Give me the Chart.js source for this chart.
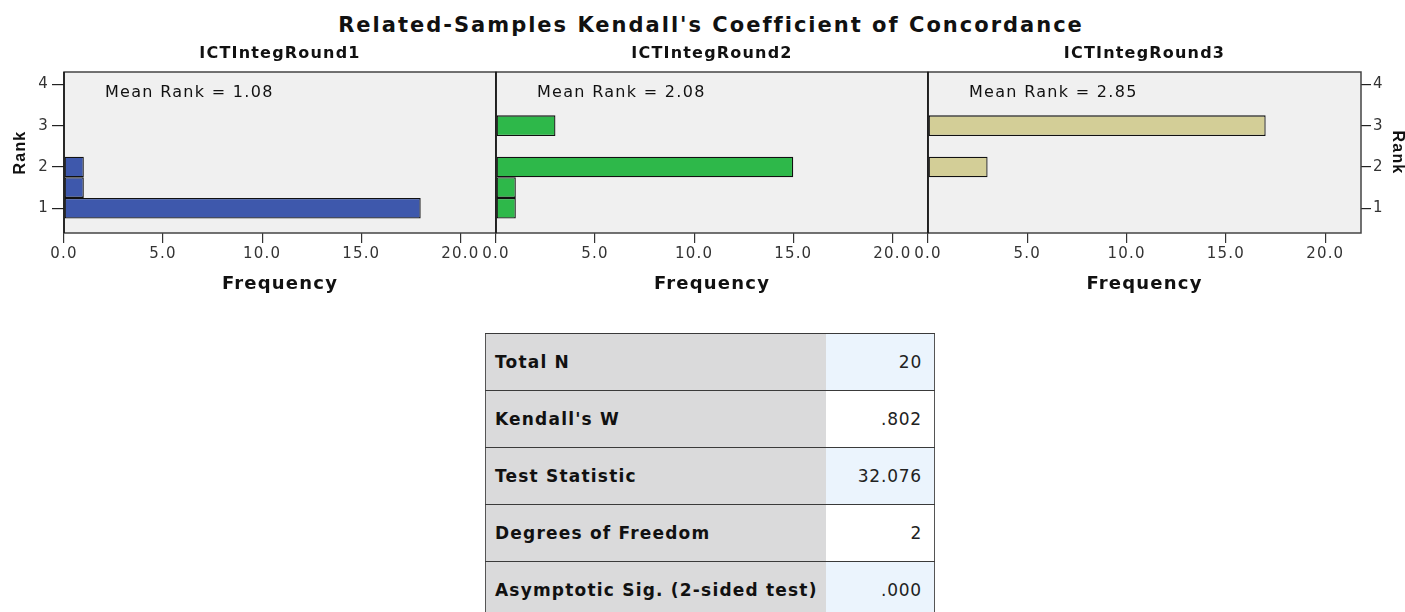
<!DOCTYPE html>
<html>
<head>
<meta charset="utf-8">
<script src="https://cdn.jsdelivr.net/npm/chart.js@4.4.1/dist/chart.umd.min.js"></script>
<style>
  html, body { margin: 0; padding: 0; background: #fff; overflow: hidden; }
  body { width: 1405px; height: 612px; position: relative; font-family: 'DejaVu Sans', sans-serif; }
  #title { position: absolute; left: 711px; top: 13px; transform: translateX(-50%); white-space: nowrap;
           font-weight: bold; font-size: 21px; line-height: 24px; letter-spacing: 2px; color: #111; }
  canvas { position: absolute; top: 40px; }
  #stats { position: absolute; left: 485px; top: 333px; width: 450px; }
  .row { display: flex; height: 57px; box-sizing: border-box; border-top: 1.5px solid #3a3a3a; }
  .lab { width: 341px; box-sizing: border-box; padding-left: 9px; background: #dadadb; font-weight: bold;
         font-size: 17px; letter-spacing: 1.2px; color: #111; display: flex; align-items: center; border-left: 1.5px solid #555; }
  .val { width: 109px; box-sizing: border-box; padding-right: 12px; font-size: 17px; letter-spacing: 0.8px; color: #222;
         display: flex; align-items: center; justify-content: flex-end; border-right: 1.5px solid #555; }
</style>
</head>
<body>
<div id="title">Related-Samples Kendall's Coefficient of Concordance</div>
<canvas id="panel1" width="500" height="260" style="left:0px"></canvas>
<canvas id="panel2" width="456" height="260" style="left:476px"></canvas>
<canvas id="panel3" width="497" height="260" style="left:908px"></canvas>
<div id="stats"></div>

<script>
// rank bins (half-rank steps) and how many raters fall in each
const rankBins = [1, 1.5, 2, 2.5, 3];
const round1Freq = [18, 1, 1, 0, 0];
const round2Freq = [1, 1, 15, 0, 3];
const round3Freq = [0, 0, 3, 0, 17];

const roundNames = ['ICTIntegRound1', 'ICTIntegRound2', 'ICTIntegRound3'];
const meanRanks = [1.08, 2.08, 2.85];
const barColors = ['#3e58ac', '#2eb84a', '#d3ce97'];

const freqTicks = [0, 5, 10, 15, 20];
const rankTicks = [1, 2, 3, 4];

const statLabels = ['Total N', "Kendall's W", 'Test Statistic', 'Degrees of Freedom', 'Asymptotic Sig. (2-sided test)'];
const statValues = ['20', '.802', '32.076', '2', '.000'];
const statShades = ['#ebf4fd', '#ffffff', '#ebf4fd', '#ffffff', '#ebf4fd'];

Chart.defaults.font.family = "'DejaVu Sans', sans-serif";

const panelDeco = {
  id: 'panelDeco',
  beforeLayout(chart) {
    chart.ctx.letterSpacing = '1.2px';
  },
  beforeDraw(chart) {
    const { ctx, chartArea: a } = chart;
    ctx.letterSpacing = '1.2px';
    ctx.save();
    ctx.fillStyle = '#f0f0f0';
    ctx.fillRect(a.left, a.top, a.right - a.left, a.bottom - a.top);
    ctx.restore();
  },
  afterDatasetsDraw(chart, args, opts) {
    const { ctx, chartArea: a } = chart;
    ctx.save();
    ctx.strokeStyle = '#444';
    ctx.lineWidth = 1.5;
    ctx.strokeRect(a.left, a.top, a.right - a.left, a.bottom - a.top);
    ctx.strokeStyle = '#111';
    ctx.beginPath();
    ctx.moveTo(a.left, a.top);
    ctx.lineTo(a.left, a.bottom);
    ctx.stroke();

    ctx.fillStyle = '#111';
    ctx.textBaseline = 'middle';
    ctx.textAlign = 'left';
    ctx.font = "16px 'DejaVu Sans'";
    ctx.letterSpacing = '1.3px';
    ctx.fillText('Mean Rank = ' + opts.mean.toFixed(2), a.left + 41, a.top + 21);

    ctx.textAlign = 'center';
    ctx.font = "bold 16px 'DejaVu Sans'";
    ctx.letterSpacing = '1.2px';
    ctx.fillText(opts.name, (a.left + a.right) / 2, a.top - 18);
    ctx.restore();
  }
};

function makePanel(id, idx, freqs, rankSide, padLeft) {
  const yScale = {
    type: 'linear',
    min: 0.4,
    max: 4.3,
    offset: false,
    display: rankSide !== null,
    position: rankSide || 'left',
    afterBuildTicks: s => { s.ticks = rankTicks.map(v => ({ value: v })); },
    grid: { offset: false, drawOnChartArea: false, tickLength: rankSide === 'left' ? 12 : 10, color: '#222', lineWidth: 1.2 },
    border: { display: false },
    ticks: { padding: rankSide === 'left' ? 3 : 2, color: '#333', font: { size: 15 } },
    title: {
      display: true,
      text: 'Rank',
      color: '#111',
      font: { family: "'Liberation Sans Narrow', 'Liberation Sans', sans-serif", weight: 'bold', size: 16, lineHeight: 1 },
      padding: { top: rankSide === 'left' ? 13 : 0, bottom: 0 }
    }
  };
  if (rankSide) {
    yScale.afterFit = s => { s.width = rankSide === 'left' ? 64 : 44; };
  }

  return new Chart(document.getElementById(id), {
    type: 'bar',
    data: {
      datasets: [{
        data: rankBins.map((r, i) => ({ x: freqs[i], y: r })),
        backgroundColor: barColors[idx],
        borderColor: '#111',
        borderWidth: 1.3,
        borderSkipped: false,
        inflateAmount: 0,
        barPercentage: 1,
        categoryPercentage: 1
      }]
    },
    options: {
      indexAxis: 'y',
      responsive: false,
      animation: false,
      layout: { padding: { top: 32, bottom: 0, left: padLeft, right: rankSide === 'right' ? 0 : 4 } },
      scales: {
        x: {
          type: 'linear',
          min: 0,
          max: 21.8,
          position: 'bottom',
          afterBuildTicks: s => { s.ticks = freqTicks.map(v => ({ value: v })); },
          afterFit: s => { s.height = 67; },
          grid: { drawOnChartArea: false, tickLength: 10, color: '#333', lineWidth: 1.2 },
          border: { display: false },
          ticks: { padding: 2, color: '#333', font: { size: 15 }, maxRotation: 0, autoSkip: false,
                   callback: v => Number(v).toFixed(1) },
          title: { display: true, text: 'Frequency', color: '#111',
                   font: { weight: 'bold', size: 18, lineHeight: 1 }, padding: { top: 0, bottom: 7 } }
        },
        y: yScale
      },
      plugins: {
        legend: { display: false },
        tooltip: { enabled: false },
        panelDeco: { mean: meanRanks[idx], name: roundNames[idx] }
      }
    },
    plugins: [panelDeco]
  });
}

makePanel('panel1', 0, round1Freq, 'left', 0);
makePanel('panel2', 1, round2Freq, null, 20);
makePanel('panel3', 2, round3Freq, 'right', 20);

// statistics table under the panels
const stats = document.getElementById('stats');
statLabels.forEach((label, i) => {
  const row = document.createElement('div');
  row.className = 'row';
  const lab = document.createElement('div');
  lab.className = 'lab';
  lab.textContent = label;
  const val = document.createElement('div');
  val.className = 'val';
  val.style.background = statShades[i];
  val.textContent = statValues[i];
  row.appendChild(lab);
  row.appendChild(val);
  stats.appendChild(row);
});
</script>
</body>
</html>
